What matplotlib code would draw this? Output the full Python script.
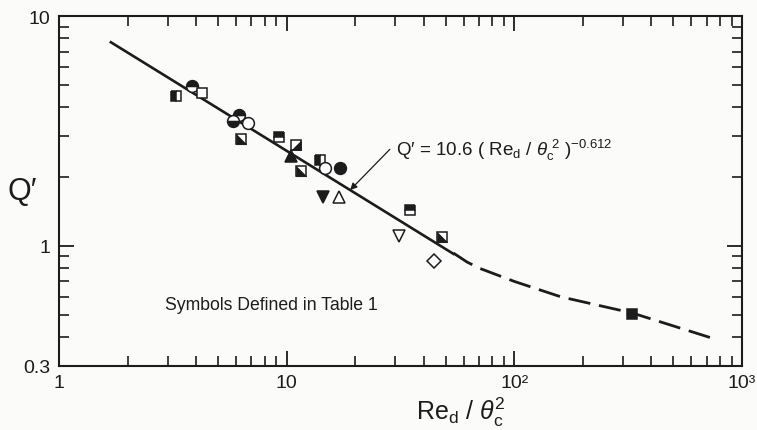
import numpy as np
import matplotlib
matplotlib.use("Agg")
import matplotlib.pyplot as plt
from matplotlib.ticker import FixedLocator, FixedFormatter, NullFormatter

plt.rcParams['font.family'] = ['Liberation Sans', 'DejaVu Sans']
plt.rcParams['mathtext.fontset'] = 'custom'
plt.rcParams['mathtext.rm'] = 'Liberation Sans'
plt.rcParams['mathtext.it'] = 'Liberation Sans:italic'
plt.rcParams['mathtext.bf'] = 'Liberation Sans:bold'

# ---------------- data ----------------
sq_half_left_x = [3.26, 13.95]
sq_half_left_y = [4.47, 2.37]
circ_half_top_x = [3.83, 6.19]
circ_half_top_y = [4.94, 3.71]
sq_open_x = [4.26]
sq_open_y = [4.62]
circ_half_bottom_x = [5.83]
circ_half_bottom_y = [3.48]
circ_open_x = [6.78, 14.7]
circ_open_y = [3.44, 2.18]
sq_diag_ll_x = [6.28, 11.56, 47.9]
sq_diag_ll_y = [2.93, 2.11, 1.09]
sq_half_top_x = [9.25, 34.8]
sq_half_top_y = [2.99, 1.43]
sq_diag_lr_x = [10.98]
sq_diag_lr_y = [2.74]
tri_up_filled_x = [10.5]
tri_up_filled_y = [2.45]
circ_filled_x = [17.1]
circ_filled_y = [2.18]
tri_down_filled_x = [14.4]
tri_down_filled_y = [1.63]
tri_up_open_x = [17.0]
tri_up_open_y = [1.63]
tri_down_open_x = [31.1]
tri_down_open_y = [1.10]
diamond_open_x = [44.4]
diamond_open_y = [0.856]
sq_filled_x = [329.6]
sq_filled_y = [0.506]

fit_coef = 10.6
fit_exp = -0.612
fit_range = [1.69, 54.0]

dashed_x = [54.0, 62.0, 70.0, 100.0, 160.0, 330.0, 780.0]
dashed_y = [0.93, 0.85, 0.80, 0.70, 0.60, 0.51, 0.39]

xtick_vals = [1, 10, 100, 1000]
xtick_labels = ['1', '10', '10²', '10³']
ytick_vals = [0.3, 1, 10]
ytick_labels = ['0.3', '1', '10']

# ---------------- figure ----------------
INK = '#1c1c1c'
BG = '#fbfbf9'
fig = plt.figure(figsize=(7.57, 4.31), dpi=100, facecolor=BG)
ax = fig.add_axes([59/757, 1-367/431, 683/757, 350/431], facecolor=BG)
ax.set_xscale('log')
ax.set_yscale('log')
ax.set_xlim(1, 1000)
ax.set_ylim(0.3, 10)

# fit line
xf = np.logspace(np.log10(fit_range[0]), np.log10(fit_range[1]), 50)
ax.plot(xf, fit_coef * xf ** fit_exp, color=INK, lw=1.9, zorder=2)
ax.plot(dashed_x, dashed_y, color=INK, lw=2.0, ls=(0, (8, 3.2)), zorder=2)

ms = 7.5
common = dict(ls='none', mec=INK, mew=1.1, zorder=4)


def half(x, y, marker, fs, size=ms):
    ax.plot(x, y, marker=marker, ms=size, fillstyle=fs, mfc=INK,
            markerfacecoloralt='white', **common)


def open_m(x, y, marker, size=ms):
    ax.plot(x, y, marker=marker, ms=size, mfc='white', **common)


def filled(x, y, marker, size=ms):
    ax.plot(x, y, marker=marker, ms=size, mfc=INK, **common)


def diag(x, y, verts):
    ax.plot(x, y, marker='s', ms=ms, mfc='white', ls='none', mec=INK,
            mew=1.1, zorder=4)
    ax.plot(x, y, marker=verts, ms=ms, mfc=INK, mec=INK, mew=0.5,
            ls='none', zorder=5)


half(sq_half_left_x, sq_half_left_y, 's', 'left')
half(circ_half_top_x, circ_half_top_y, 'o', 'top', ms + 1)
open_m(sq_open_x, sq_open_y, 's')
half(circ_half_bottom_x, circ_half_bottom_y, 'o', 'bottom', ms + 1)
open_m(circ_open_x, circ_open_y, 'o', ms + 1)
diag(sq_diag_ll_x, sq_diag_ll_y, [(-1, -1), (1, -1), (-1, 1)])
half(sq_half_top_x, sq_half_top_y, 's', 'top')
diag(sq_diag_lr_x, sq_diag_lr_y, [(1, 1), (1, -1), (-1, -1)])
filled(tri_up_filled_x, tri_up_filled_y, '^', ms + 1)
filled(circ_filled_x, circ_filled_y, 'o', ms + 1)
filled(tri_down_filled_x, tri_down_filled_y, 'v', ms + 1)
open_m(tri_up_open_x, tri_up_open_y, '^', ms + 1)
open_m(tri_down_open_x, tri_down_open_y, 'v', ms + 1)
open_m(diamond_open_x, diamond_open_y, 'D', ms - 0.5)
filled(sq_filled_x, sq_filled_y, 's')

# annotation
x_head = 19.0
ax.annotate('', xy=(x_head, fit_coef * x_head ** fit_exp), xytext=(28.4, 2.63),
            arrowprops=dict(arrowstyle='-|>', color=INK, lw=0.9,
                            mutation_scale=10, shrinkA=0, shrinkB=0))
ax.text(30.2, 2.62,
        "Q′ = 10.6 ( Re$_\\mathregular{d}$ / $\\theta_\\mathregular{c}^{\\ \\mathregular{2}}$ )$^{\\mathregular{-0.612}}$",
        fontsize=13.5, color=INK, ha='left', va='center')
ax.text(2.92, 0.556, 'Symbols Defined in Table 1', fontsize=12.7, color=INK,
        ha='left', va='center')

# ticks
for side in ['left', 'right', 'top', 'bottom']:
    ax.spines[side].set_linewidth(1.5)
    ax.spines[side].set_color(INK)

ax.xaxis.set_major_locator(FixedLocator(xtick_vals))
ax.xaxis.set_major_formatter(FixedFormatter(xtick_labels))
xminor = [m * 10 ** d for d in range(0, 3) for m in range(2, 10)]
ax.xaxis.set_minor_locator(FixedLocator(xminor))
ax.xaxis.set_minor_formatter(NullFormatter())

ax.yaxis.set_major_locator(FixedLocator(ytick_vals))
ax.yaxis.set_major_formatter(FixedFormatter(ytick_labels))
yminor = [m / 10 for m in range(4, 10)] + list(range(2, 10))
ax.yaxis.set_minor_locator(FixedLocator(yminor))
ax.yaxis.set_minor_formatter(NullFormatter())

ax.tick_params(which='both', direction='in', top=True, right=True,
               color=INK, labelcolor=INK, labelsize=14)
ax.tick_params(which='major', length=11, width=1.3)
ax.tick_params(which='minor', length=7, width=1.2)
ax.tick_params(axis='x', which='major', pad=6)
ax.tick_params(axis='y', which='major', pad=6)

ax.set_ylabel('Q′', fontsize=22, rotation=0, color=INK, ha='center', va='center')
ax.yaxis.set_label_coords(-0.054, 0.5)
ax.set_xlabel('Re$_\\mathregular{d}$ / $\\theta_\\mathregular{c}^\\mathregular{2}$',
              fontsize=18, color=INK, ha='center', va='center')
ax.xaxis.set_label_coords(0.588, -0.13)

fig.savefig('out.png', dpi=100, facecolor=BG)
